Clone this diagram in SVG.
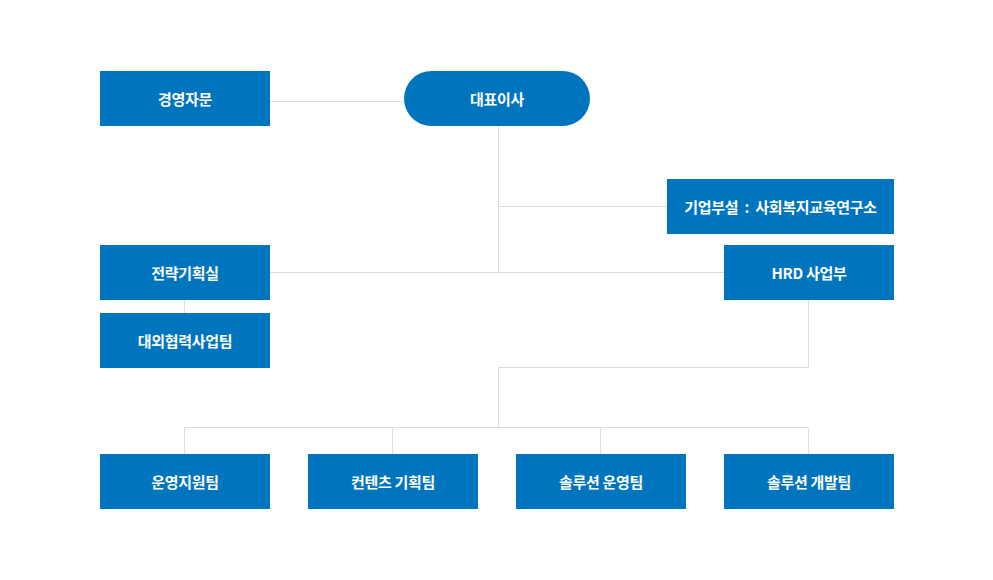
<svg xmlns="http://www.w3.org/2000/svg" width="993" height="580" viewBox="0 0 993 580">
<style>
.n{fill:#0075be}
.t{fill:#fff;font-family:"Noto Sans CJK KR","Noto Sans",sans-serif;font-size:15px;font-weight:700;text-anchor:middle;dominant-baseline:central;letter-spacing:-0.3px}
.c{stroke:#dcdcdc;stroke-width:1;fill:none}
</style>
<rect width="993" height="580" fill="#fff"/>
<g id="connectors" class="c">
<path d="M270 101.5H404"/>
<path d="M498.5 126V272.5"/>
<path d="M498 206.5H667"/>
<path d="M270 272.5H724"/>
<path d="M184.5 300V313"/>
<path d="M808.5 300V367.5H498.5V427.5"/>
<path d="M184.5 454V427.5H808.5V454"/>
<path d="M392.5 427.5V454"/>
<path d="M600.5 427.5V454"/>
</g>
<g id="n1"><rect class="n" x="100" y="71" width="170" height="55"/><text class="t" x="185" y="98">경영자문</text></g>
<g id="n2"><rect class="n" x="404" y="71" width="186" height="55" rx="27.5"/><text class="t" x="497" y="98">대표이사</text></g>
<g id="n3"><rect class="n" x="667" y="179" width="227" height="55"/><text class="t" x="780.5" y="206">기업부설 <tspan dx="3">:</tspan> <tspan dx="3">사회복지교육연구소</tspan></text></g>
<g id="n4"><rect class="n" x="724" y="245" width="170" height="55"/><text class="t" x="809" y="272">HRD 사업부</text></g>
<g id="n5"><rect class="n" x="100" y="245" width="170" height="55"/><text class="t" x="185" y="272">전략기획실</text></g>
<g id="n6"><rect class="n" x="100" y="313" width="170" height="55"/><text class="t" x="185" y="340">대외협력사업팀</text></g>
<g id="n7"><rect class="n" x="100" y="454" width="170" height="55"/><text class="t" x="185" y="481">운영지원팀</text></g>
<g id="n8"><rect class="n" x="308" y="454" width="170" height="55"/><text class="t" x="393" y="481">컨텐츠 기획팀</text></g>
<g id="n9"><rect class="n" x="516" y="454" width="170" height="55"/><text class="t" x="601" y="481">솔루션 운영팀</text></g>
<g id="n10"><rect class="n" x="724" y="454" width="170" height="55"/><text class="t" x="809" y="481">솔루션 개발팀</text></g>
</svg>
